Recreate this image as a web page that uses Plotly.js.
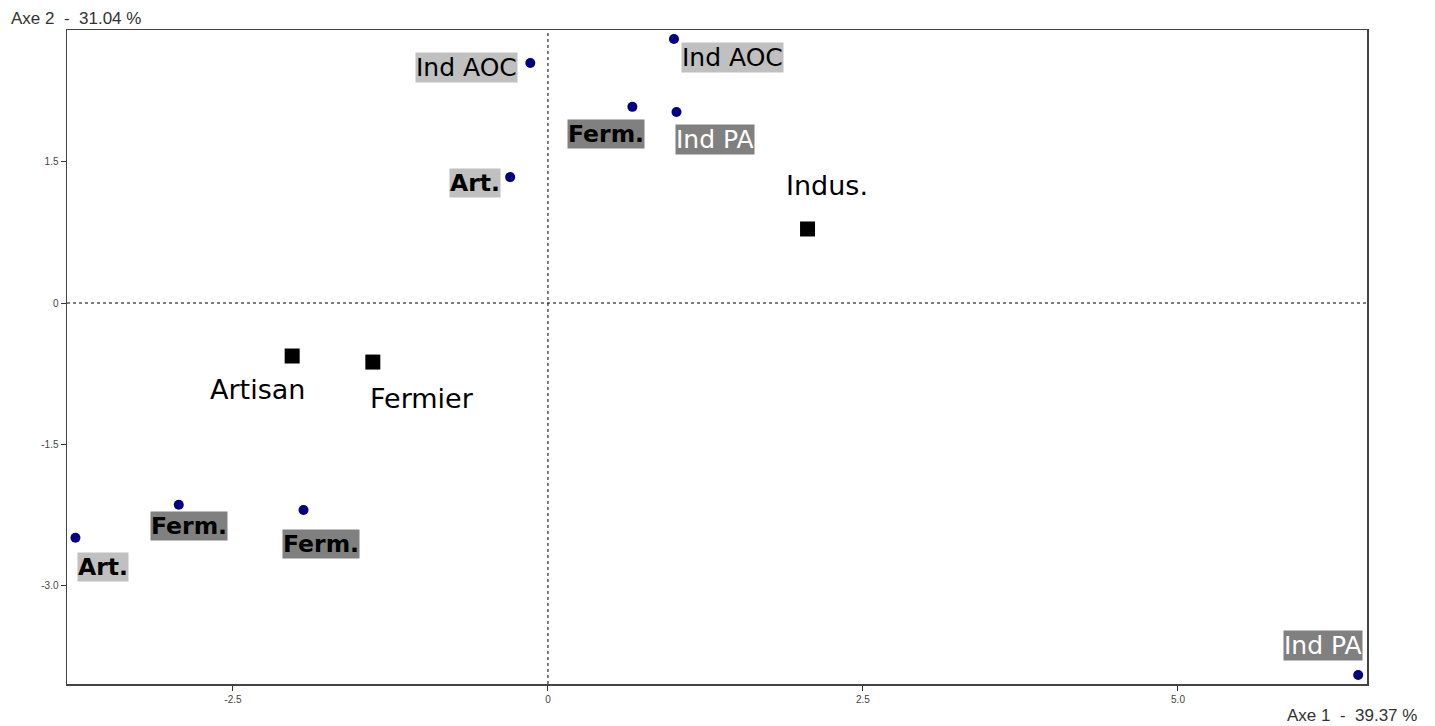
<!DOCTYPE html>
<html>
<head>
<meta charset="utf-8">
<script src="https://cdn.plot.ly/plotly-3.0.1.min.js"></script>
<style>html,body{margin:0;padding:0;background:#fff;}#chart{width:1435px;height:726px;}</style>
</head>
<body>
<div id="chart"></div>
<script>
// Individuals (points)
const indLabels = ["Ind AOC", "Ind AOC", "Ferm.", "Ind PA", "Art.", "Ferm.", "Ferm.", "Art.", "Ind PA"];
const indX = [-0.14, 1.00, 0.67, 1.02, -0.30, -2.93, -1.94, -3.75, 6.43];
const indY = [2.545, 2.80, 2.08, 2.025, 1.335, -2.14, -2.195, -2.49, -3.945];
const indStyle = ["light", "light", "dark", "darkw", "light", "dark", "dark", "light", "darkw"];

// Category centroids (squares)
const catLabels = ["Indus.", "Artisan", "Fermier"];
const catX = [2.06, -2.03, -1.39];
const catY = [0.785, -0.562, -0.626];

const xTicks = [-2.5, 0, 2.5, 5.0];
const xTickText = ["-2.5", "0", "2.5", "5.0"];
const yTicks = [-3.0, -1.5, 0, 1.5];
const yTickText = ["-3.0", "-1.5", "0", "1.5"];

// label pixel offsets (style/layout, not data)
const indOffsets = [[-64, 4], [59, 19], [-26, 27], [39, 27], [-35, 6], [10, 21], [17, 34], [28, 29], [-35, -30]];
const catOffsets = [[19, -43], [-35, 33], [49, 36]];

const FONT = "DejaVu Sans, Verdana, sans-serif";
const styles = {
  light: {bg: "#c0c0c0", color: "#000"},
  dark: {bg: "#808080", color: "#000"},
  darkw: {bg: "#808080", color: "#fff"}
};

const annotations = [];
indLabels.forEach((t, i) => {
  const s = styles[indStyle[i]];
  const bold = (t === "Ferm." || t === "Art.");
  annotations.push({
    x: indX[i], y: indY[i], xref: "x", yref: "y",
    text: bold ? "<b>" + t + "</b>" : t,
    showarrow: false, xshift: indOffsets[i][0], yshift: -indOffsets[i][1],
    bgcolor: s.bg, borderpad: 0,
    font: {family: FONT, size: bold ? 23.5 : 25, color: s.color}
  });
});
catLabels.forEach((t, i) => {
  annotations.push({
    x: catX[i], y: catY[i], xref: "x", yref: "y",
    text: t, showarrow: false,
    xshift: catOffsets[i][0], yshift: -catOffsets[i][1],
    font: {family: FONT, size: 27, color: "#000"}
  });
});
annotations.push({
  xref: "paper", yref: "paper", x: 0, y: 1, xanchor: "left", yanchor: "bottom",
  xshift: -58, yshift: 0, showarrow: false,
  text: "Axe 2 &nbsp;- &nbsp;31.04 %",
  font: {family: "Liberation Sans, Arial, sans-serif", size: 17, color: "#333"}
});
annotations.push({
  xref: "paper", yref: "paper", x: 1, y: 0, xanchor: "right", yanchor: "top",
  xshift: 52, yshift: -20, showarrow: false,
  text: "Axe 1 &nbsp;- &nbsp;39.37 %",
  font: {family: "Liberation Sans, Arial, sans-serif", size: 17, color: "#333"}
});

const traces = [
  {
    x: indX, y: indY, type: "scatter", mode: "markers",
    marker: {symbol: "circle", size: 10, color: "#000080"},
    hoverinfo: "skip", cliponaxis: false
  },
  {
    x: catX, y: catY, type: "scatter", mode: "markers",
    marker: {symbol: "square", size: 15, color: "#000"},
    hoverinfo: "skip"
  }
];

const layout = {
  width: 1435, height: 726,
  margin: {l: 67, r: 68, t: 30, b: 42},
  paper_bgcolor: "#fff", plot_bgcolor: "#fff",
  showlegend: false,
  xaxis: {
    range: [-3.817, 6.5], showgrid: false, zeroline: false,
    tickmode: "array", tickvals: xTicks, ticktext: xTickText,
    ticks: "outside", ticklen: 5, tickcolor: "#333",
    showline: true, linecolor: "#444", linewidth: 1.5, mirror: true,
    tickfont: {family: "Liberation Sans, Arial, sans-serif", size: 10, color: "#444"}
  },
  yaxis: {
    range: [-4.04, 2.895], showgrid: false, zeroline: false,
    tickmode: "array", tickvals: yTicks, ticktext: yTickText,
    ticks: "outside", ticklen: 5, tickcolor: "#333",
    showline: true, linecolor: "#444", linewidth: 1.5, mirror: true,
    tickfont: {family: "Liberation Sans, Arial, sans-serif", size: 10, color: "#444"}
  },
  shapes: [
    {type: "line", xref: "x", yref: "paper", x0: 0, x1: 0, y0: 0, y1: 1, line: {color: "#000", width: 1, dash: "dot"}},
    {type: "line", xref: "paper", yref: "y", x0: 0, x1: 1, y0: 0, y1: 0, line: {color: "#000", width: 1, dash: "dot"}}
  ],
  annotations: annotations
};

Plotly.newPlot("chart", traces, layout, {staticPlot: true, displayModeBar: false});
</script>
</body>
</html>
